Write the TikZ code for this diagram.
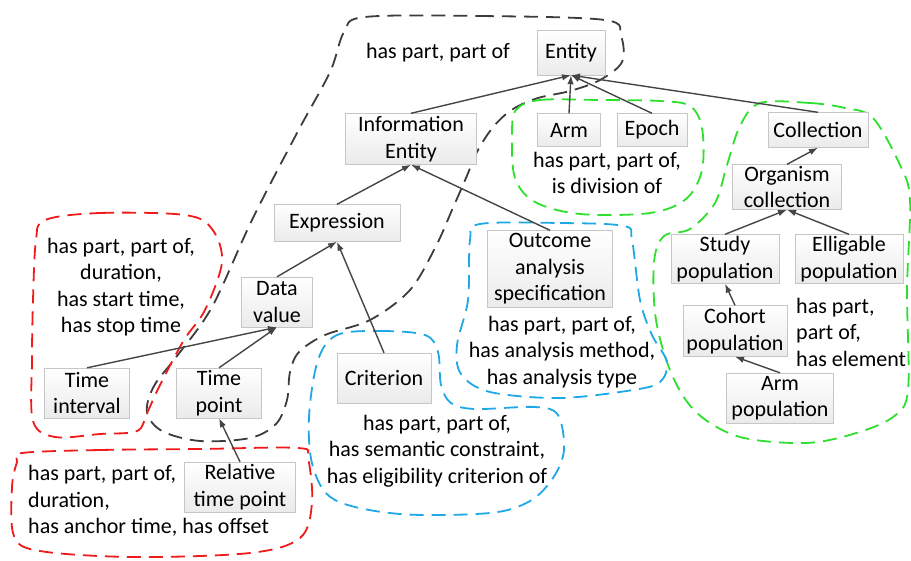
\documentclass[tikz,border=0pt]{standalone}
\usepackage{fontspec}
\setmainfont{Carlito}
\usetikzlibrary{arrows.meta}
\definecolor{lnk}{HTML}{454545}
\definecolor{dgr}{HTML}{3C3C3C}
\definecolor{rd}{HTML}{F01A1A}
\definecolor{gn}{HTML}{2EE02E}
\definecolor{bl}{HTML}{1FA8E6}
\begin{document}
\begin{tikzpicture}[x=1pt,y=-1pt,
  font=\fontsize{22}{26.5}\selectfont,
  box/.style 2 args={draw=gray!45, top color=white, bottom color=gray!16, inner sep=0pt, align=center, minimum width=#1, minimum height=#2},
  lbl/.style={align=center, inner sep=0pt},
  lbll/.style={align=left, inner sep=0pt, anchor=west},
  link/.style={draw=lnk, line width=1.4pt, -{Latex[length=9pt,width=6.5pt]}},
  blob/.style={line width=1.8pt, dash pattern=on 14pt off 8pt}
]
\useasboundingbox (0,0) rectangle (911,560);

% dashed groups
\draw[blob, draw=dgr] plot[smooth cycle, tension=0.55] coordinates {
 (365,17) (480,16) (605,20) (621,36) (622,62) (600,80) (570,91) (538,98) (513,109) (494,126)
 (478,150) (466,178) (452,210) (436,246) (410,290) (370,320) (325,335) (299,352) (290,372)
 (287,400) (276,424) (250,438) (200,441) (162,431) (147,412) (154,386) (177,356) (212,307)
 (252,220) (297,133) (330,72) (344,32)};
\draw[blob, draw=gn] plot[smooth cycle, tension=0.55] coordinates {
 (516,110) (540,100) (600,100) (660,101) (690,106) (702,128) (702,170) (686,199) (650,213)
 (580,214) (535,202) (515,178) (512,135)};
\draw[blob, draw=gn] plot[smooth cycle, tension=0.55] coordinates {
 (760,103) (810,103) (845,108) (873,118) (900,165) (910,200) (907,290) (908,390) (893,417)
 (853,434) (805,443) (740,437) (697,413) (672,375) (656,320) (654,262) (664,236) (690,229)
 (715,203) (727,165) (740,126)};
\draw[blob, draw=bl] plot[smooth cycle, tension=0.55] coordinates {
 (480,224) (560,223) (624,226) (632,240) (640,300) (652,335) (667,362) (660,382) (633,390)
 (560,398) (490,392) (461,374) (457,345) (468,300) (470,240)};
\draw[blob, draw=bl] plot[smooth cycle, tension=0.55] coordinates {
 (337,335) (380,331) (425,335) (438,352) (441,385) (451,403) (475,409) (535,407) (558,415)
 (564,450) (553,478) (530,501) (490,513) (400,514) (335,500) (313,467) (309,417) (318,360)};
\draw[blob, draw=rd] plot[smooth cycle, tension=0.55] coordinates {
 (45,220) (100,213) (185,215) (212,229) (222,262) (205,310) (184,340) (160,385) (147,413)
 (137,431) (100,434) (55,437) (33,421) (32,360) (33,300) (36,240)};
\draw[blob, draw=rd] plot[smooth cycle, tension=0.55] coordinates {
 (22,453) (100,450) (200,449) (298,448) (308,458) (312,503) (300,538) (250,553) (133,557)
 (40,551) (14,536) (12,487) (17,462)};

% nodes
\node[box={68pt}{45pt}] (ent) at (571,52.5) {Entity};
\node[box={131pt}{51pt}] (ie) at (411,139) {Information\\Entity};
\node[box={63pt}{33pt}] (arm) at (569,130) {Arm};
\node[box={70pt}{33pt}] (epo) at (652,130) {Epoch};
\node[box={100pt}{35pt}] (col) at (818,130) {Collection};
\node[box={109pt}{45pt}] (oc) at (787,187) {Organism\\collection};
\node[box={126pt}{37pt}] (expr) at (337,223) {Expression};
\node[box={125pt}{77pt}] (oas) at (550,269) {Outcome\\analysis\\specification};
\node[box={108pt}{49pt}] (sp) at (725,259) {Study\\population};
\node[box={108pt}{49pt}] (ep) at (849,259) {Elligable\\population};
\node[box={71pt}{50pt}] (dv) at (277,302) {Data\\value};
\node[box={104pt}{51pt}] (cp) at (735,331) {Cohort\\population};
\node[box={107pt}{50pt}] (ap) at (780,398) {Arm\\population};
\node[box={85pt}{50pt}] (ti) at (87,393) {Time\\interval};
\node[box={85pt}{50pt}] (tp) at (219,393) {Time\\point};
\node[box={94pt}{50pt}] (cr) at (384,378) {Criterion};
\node[box={111pt}{50pt}] (rtp) at (240,487) {Relative\\time point};

% labels
\node[lbl] (l1) at (438,53) {has part, part of};
\node[lbl] (l2) at (607,173) {has part, part of,\\is division of};
\node[lbl] (l3) at (121,287) {has part, part of,\\duration,\\has start time,\\has stop time};
\node[lbl] (l4) at (562,352) {has part, part of,\\has analysis method,\\has analysis type};
\node[lbl] (l5) at (437,451) {has part, part of,\\has semantic constraint,\\has eligibility criterion of};
\node[lbll] (l6) at (796,332) {has part,\\part of,\\has element};
\node[lbll] (l7) at (28,501) {has part, part of,\\duration,\\has anchor time, has offset};

% links
\draw[link] (ie.north) -- (ent.south);
\draw[link] (arm.north) -- (ent.south);
\draw[link] (epo.north) -- (ent.south);
\draw[link] (col.north) -- (ent.south);
\draw[link] (expr.north) -- (ie.south);
\draw[link] (oas.north) -- (ie.south);
\draw[link] (dv.north) -- (expr.south);
\draw[link] (cr.north) -- (expr.south);
\draw[link] (ti.north) -- (dv.south);
\draw[link] (tp.north) -- (dv.south);
\draw[link] (rtp.north) -- (tp.south);
\draw[link] (oc.north) -- (col.south);
\draw[link] (sp.north) -- (oc.south);
\draw[link] (ep.north) -- (oc.south);
\draw[link] (cp.north) -- (sp.south);
\draw[link] (ap.north) -- (cp.south);
\end{tikzpicture}
\end{document}
